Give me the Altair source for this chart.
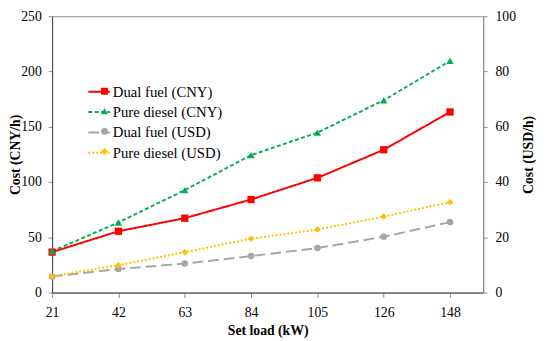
import altair as alt
import pandas as pd

loads = ["21", "42", "63", "84", "105", "126", "148"]
dual_cny = [36.6, 55.5, 67.3, 84.2, 103.8, 129.2, 163.4]
diesel_cny = [37.4, 63.4, 92.7, 124.3, 144.7, 174.0, 209.6]
dual_usd = [5.8, 8.5, 10.5, 13.2, 16.1, 20.2, 25.5]
diesel_usd = [5.9, 9.9, 14.6, 19.5, 22.8, 27.5, 32.7]

series_names = ["Dual fuel (CNY)", "Pure diesel (CNY)", "Dual fuel (USD)", "Pure diesel (USD)"]
marker_keys = ["m1", "m2", "m3", "m4"]
series_values = [dual_cny, diesel_cny, dual_usd, diesel_usd]
series_unit = ["CNY", "CNY", "USD", "USD"]
colors = ["#FF0000", "#00B050", "#A6A6A6", "#FFC000"]
dashes = [[1, 0], [4, 2.5], [11, 5], [2, 2]]
shapes = ["square", "triangle-up", "circle", "diamond"]

rows = []
for name, key, vals, unit in zip(series_names, marker_keys, series_values, series_unit):
    for i, (ld, v) in enumerate(zip(loads, vals)):
        rows.append({"idx": i, "load": ld, "series": name, "marker": key, "unit": unit, "value": v})
df = pd.DataFrame(rows)

FONT = "Liberation Serif"
label_expr = "[" + ",".join("'%s'" % l for l in loads) + "][datum.value]"

x_enc = alt.X(
    "idx:Q",
    scale=alt.Scale(domain=[0, 6.5], nice=False, zero=False),
    axis=alt.Axis(values=list(range(len(loads))), labelExpr=label_expr, title="Set load (kW)",
                  tickSize=5, labelPadding=8, titlePadding=5, labelFlush=False,
                  domainColor="#404040", tickColor="#8c8c8c"),
)

legA = alt.Legend(orient="none", legendX=36, legendY=65, title=None, symbolType="stroke",
                  symbolSize=484, symbolStrokeWidth=2, labelFont=FONT, labelFontSize=15,
                  labelColor="black", labelOffset=2, rowPadding=0.8, padding=0)
legB = alt.Legend(orient="none", legendX=46, legendY=69, title=None, symbolSize=50,
                  labelFont=FONT, labelFontSize=15, labelExpr="''", labelOffset=2,
                  rowPadding=4.5, padding=0, symbolStrokeWidth=0)

color_enc = alt.Color("series:N", scale=alt.Scale(domain=series_names, range=colors), legend=legA)
dash_enc = alt.StrokeDash("series:N", scale=alt.Scale(domain=series_names, range=dashes), legend=legA)
fill_enc = alt.Fill("marker:N", scale=alt.Scale(domain=marker_keys, range=colors), legend=legB)
shape_enc = alt.Shape("marker:N", scale=alt.Scale(domain=marker_keys, range=shapes), legend=legB)

y_cny = alt.Y("value:Q", scale=alt.Scale(domain=[0, 250], nice=False),
              axis=alt.Axis(orient="left", values=[0, 50, 100, 150, 200, 250], title="Cost (CNY/h)",
                            tickSize=4, labelPadding=7, titleX=-37, titleBaseline="middle",
                            domainColor="#404040", tickColor="#8c8c8c"))
y_usd = alt.Y("value:Q", scale=alt.Scale(domain=[0, 100], nice=False),
              axis=alt.Axis(orient="right", values=[0, 20, 40, 60, 80, 100], title="Cost (USD/h)",
                            tickSize=4, labelPadding=8, titleX=46, titleAngle=270, titleBaseline="middle",
                            domainColor="#8c8c8c", tickColor="#8c8c8c"))

base = alt.Chart(df)

cny = alt.layer(
    base.transform_filter(alt.datum.unit == "CNY").mark_line(strokeWidth=2).encode(
        x=x_enc, y=y_cny, color=color_enc, strokeDash=dash_enc),
    base.transform_filter(alt.datum.unit == "CNY").mark_point(filled=True, opacity=1, size=55).encode(
        x=x_enc, y=y_cny, fill=fill_enc, shape=shape_enc),
)
usd = alt.layer(
    base.transform_filter(alt.datum.unit == "USD").mark_line(strokeWidth=2).encode(
        x=x_enc, y=y_usd, color=color_enc, strokeDash=dash_enc),
    base.transform_filter(alt.datum.unit == "USD").mark_point(filled=True, opacity=1, size=45).encode(
        x=x_enc, y=y_usd, fill=fill_enc, shape=shape_enc),
)

chart = alt.layer(cny, usd).resolve_scale(y="independent").properties(
    width=440, height=282,
    autosize=alt.AutoSizeParams(type="none"),
    padding={"left": 45, "top": 5, "right": 60, "bottom": 46},
).configure_axis(
    grid=False, labelFont=FONT, labelFontSize=14, labelColor="black",
    titleFont=FONT, titleFontSize=14, titleFontWeight="bold", titleColor="black",
).configure_view(stroke="#8c8c8c")

chart.save("out.html", embed_options={"renderer": "svg", "actions": False})
